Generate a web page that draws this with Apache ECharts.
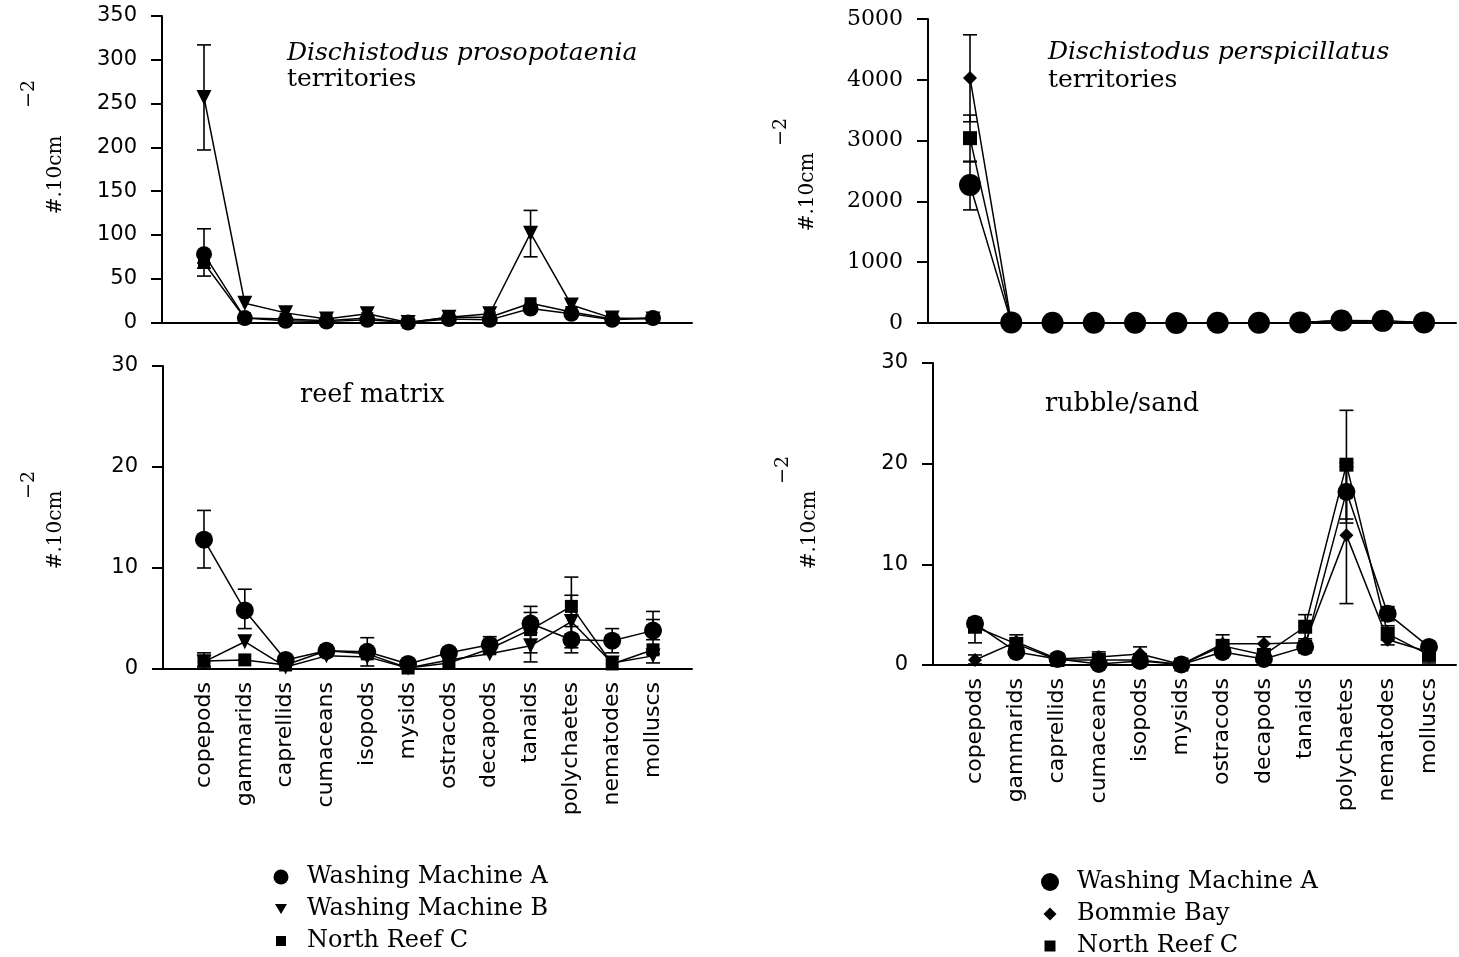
<!DOCTYPE html>
<html><head><meta charset="utf-8">
<script src="https://cdn.jsdelivr.net/npm/echarts@6/dist/echarts.min.js"></script>
<style>html,body{margin:0;padding:0;background:#fff}#c{width:1459px;height:957px}</style>
</head><body><div id="c"></div>
<script>
// ---------- DATA ----------
const categories = ['copepods','gammarids','caprellids','cumaceans','isopods','mysids','ostracods','decapods','tanaids','polychaetes','nematodes','molluscs'];
const leftSites = ['Washing Machine A','Washing Machine B','North Reef C'];
const rightSites = ['Washing Machine A','Bommie Bay','North Reef C'];

const tlYTicks = [0,50,100,150,200,250,300,350];
const blYTicks = [0,10,20,30];
const trYTicks = [0,1000,2000,3000,4000,5000];
const brYTicks = [0,10,20,30];

// Dischistodus prosopotaenia territories
const tlWMA = [78, 5, 2, 1, 3, 0, 4, 3, 16, 10, 3, 5];
const tlWMB = [257, 22, 11, 4, 10, 0, 6, 10, 102, 20, 5, 4];
const tlNRC = [68, 5, 4, 2, 5, 0, 6, 6, 22, 12, 4, 5];
const tlErrWMA = [[62,107],null,null,null,null,null,null,null,null,null,null,null];
const tlErrWMB = [[197,317],null,null,null,null,null,null,null,[75,128],null,null,null];
const tlErrNRC = [[53,68],null,null,null,null,null,null,null,null,null,null,null];

// reef matrix
const blWMA = [12.8, 5.8, 0.9, 1.8, 1.7, 0.5, 1.6, 2.4, 4.5, 2.9, 2.8, 3.8];
const blWMB = [0.7, 2.7, 0.2, 1.3, 1.2, 0.1, 0.9, 1.5, 2.3, 4.7, 0.6, 1.3];
const blNRC = [0.8, 0.9, 0.4, 1.8, 1.5, 0.1, 0.6, 2.0, 3.9, 6.2, 0.5, 1.9];
const blErrWMA = [[10.0,15.7],[4.0,7.9],null,null,[0.3,3.1],null,null,[1.6,3.2],[3.6,5.6],[1.6,4.2],[1.6,4.0],[2.9,5.7]];
const blErrWMB = [[0.2,1.6],null,null,null,null,null,null,null,[0.7,3.9],[2.1,7.3],null,[0.6,1.9]];
const blErrNRC = [null,null,null,null,null,null,null,null,[1.6,6.2],[3.3,9.1],null,[1.5,4.9]];

// Dischistodus perspicillatus territories
const trWMA = [2270, 10, 5, 5, 5, 0, 5, 5, 10, 40, 35, 10];
const trBB = [4030, 10, 5, 5, 5, 0, 5, 5, 10, 35, 30, 10];
const trNRC = [3040, 10, 5, 5, 5, 0, 5, 5, 10, 35, 30, 10];
const trErrWMA = [[1860,2660],null,null,null,null,null,null,null,null,null,null,null];
const trErrBB = [[3310,4740],null,null,null,null,null,null,null,null,null,null,null];
const trErrNRC = [[2650,3420],null,null,null,null,null,null,null,null,null,null,null];

// rubble/sand
const brWMA = [4.1, 1.3, 0.6, 0.1, 0.4, 0.05, 1.3, 0.6, 1.8, 17.2, 5.1, 1.8];
const brBB = [0.5, 2.3, 0.6, 0.8, 1.1, 0.05, 2.1, 2.1, 2.2, 12.9, 2.5, 1.3];
const brNRC = [3.8, 2.1, 0.5, 0.5, 0.5, 0.05, 1.9, 1.0, 3.8, 19.9, 3.1, 1.0];
const brErrWMA = [[3.5,4.7],null,null,null,null,null,null,null,[1.2,2.4],[14.1,20.1],[4.4,5.8],null];
const brErrBB = [[0.1,1.0],[1.6,3.0],null,[0.3,1.3],[0.4,1.8],null,[1.2,3.0],[1.4,2.8],null,[6.1,19.7],null,[0.2,2.0]];
const brErrNRC = [[2.2,4.2],null,null,null,null,null,null,null,[2.6,5.0],[14.5,25.3],[2.0,3.9],null];

// ---------- LAYOUT ----------
const panels = [
  {grid:{left:162, top:16, width:530, height:306.5}, xmin:-1.029, xmax:11.955, yTicks:tlYTicks, labels:false, yFont:'DejaVu Sans', yFontSize:21,
   series:[
     {name:leftSites[2], vals:tlNRC, errs:tlErrNRC, symbol:'rect', size:12},
     {name:leftSites[1], vals:tlWMB, errs:tlErrWMB, symbol:'triangle', rot:180, size:15},
     {name:leftSites[0], vals:tlWMA, errs:tlErrWMA, symbol:'circle', size:16}]},
  {grid:{left:163, top:366, width:529, height:303}, xmin:-1.004, xmax:11.955, yTicks:blYTicks, labels:true, yFont:'DejaVu Sans', yFontSize:21,
   series:[
     {name:leftSites[2], vals:blNRC, errs:blErrNRC, symbol:'rect', size:13},
     {name:leftSites[1], vals:blWMB, errs:blErrWMB, symbol:'triangle', rot:180, size:15},
     {name:leftSites[0], vals:blWMA, errs:blErrWMA, symbol:'circle', size:18}]},
  {grid:{left:928, top:19, width:528, height:304}, xmin:-1.018, xmax:11.776, yTicks:trYTicks, labels:false, yFont:'DejaVu Serif', yFontSize:22,
   series:[
     {name:rightSites[2], vals:trNRC, errs:trErrNRC, symbol:'rect', size:14},
     {name:rightSites[1], vals:trBB, errs:trErrBB, symbol:'diamond', size:14},
     {name:rightSites[0], vals:trWMA, errs:trErrWMA, symbol:'circle', size:22}]},
  {grid:{left:933, top:363, width:523, height:302}, xmin:-1.018, xmax:11.655, yTicks:brYTicks, labels:true, yFont:'DejaVu Sans', yFontSize:21,
   series:[
     {name:rightSites[2], vals:brNRC, errs:brErrNRC, symbol:'rect', size:14},
     {name:rightSites[1], vals:brBB, errs:brErrBB, symbol:'diamond', size:14},
     {name:rightSites[0], vals:brWMA, errs:brErrWMA, symbol:'circle', size:18}]}
];

const grids = [], xAxes = [], yAxes = [], series = [];
panels.forEach((p, g) => {
  grids.push(Object.assign({containLabel:false}, p.grid));
  xAxes.push({
    type:'value', gridIndex:g, min:p.xmin, max:p.xmax,
    axisLine:{show:true, onZero:false, lineStyle:{color:'#000', width:2}},
    axisTick:{show:false}, splitLine:{show:false},
    axisLabel: p.labels ? {
      show:true, customValues:categories.map((c,i)=>i),
      formatter:(v)=>categories[Math.round(v)] || '',
      rotate:90, fontSize:22, fontFamily:'DejaVu Sans', color:'#000', margin:13
    } : {show:false}
  });
  const yt = p.yTicks;
  yAxes.push({
    type:'value', gridIndex:g, min:yt[0], max:yt[yt.length-1], interval:yt[1]-yt[0],
    axisLine:{show:true, onZero:false, lineStyle:{color:'#000', width:2}},
    axisTick:{show:true, length:11, lineStyle:{color:'#000', width:2}},
    splitLine:{show:false},
    axisLabel:{fontSize:p.yFontSize, fontFamily:p.yFont, color:'#000', margin:25, formatter:(v)=>String(v)}
  });
  p.series.forEach(s => {
    const ed = [];
    s.errs.forEach((e,i)=>{ if (e) ed.push([i, e[0], e[1]]); });
    series.push({
      type:'custom', xAxisIndex:g, yAxisIndex:g, data:ed, z:1, silent:true,
      encode:{x:0, y:[1,2]},
      renderItem:(params, api) => {
        const x = api.value(0);
        const lo = api.coord([x, api.value(1)]);
        const hi = api.coord([x, api.value(2)]);
        const c = 7, st = {stroke:'#000', lineWidth:1.6};
        return {type:'group', children:[
          {type:'line', shape:{x1:lo[0], y1:lo[1], x2:hi[0], y2:hi[1]}, style:st},
          {type:'line', shape:{x1:lo[0]-c, y1:lo[1], x2:lo[0]+c, y2:lo[1]}, style:st},
          {type:'line', shape:{x1:hi[0]-c, y1:hi[1], x2:hi[0]+c, y2:hi[1]}, style:st}
        ]};
      }
    });
    series.push({
      type:'line', name:s.name, xAxisIndex:g, yAxisIndex:g,
      data:s.vals.map((v,i)=>[i,v]),
      symbol:s.symbol, symbolSize:s.size, symbolRotate:s.rot || 0,
      showAllSymbol:true, itemStyle:{color:'#000'},
      lineStyle:{color:'#000', width:1.5}, z:3
    });
  });
});

// legends (one row each): marker centre cx, row centre cy, text start tx
const legendRows = [
  {name:leftSites[0], icon:'circle', size:15, cx:281, cy:877, tx:307},
  {name:leftSites[1], icon:'path://M0,0L12,0L6,10Z', size:12, cx:281, cy:909, tx:307},
  {name:leftSites[2], icon:'rect', size:10, cx:281, cy:941, tx:307},
  {name:rightSites[0], icon:'circle', size:18, cx:1050, cy:882, tx:1077},
  {name:rightSites[1], icon:'path://M5,0L10,5L5,10L0,5Z', size:13, cx:1050, cy:914, tx:1077},
  {name:rightSites[2], icon:'rect', size:11, cx:1050, cy:946, tx:1077}
];
const legends = legendRows.map(r => {
  const pad = r.tx - (r.cx + r.size/2 + 5);
  return {
    data:[{name:r.name, icon:r.icon}], left:r.cx - r.size/2, top:r.cy - 13,
    itemWidth:r.size, itemHeight:r.size,
    padding:0, selectedMode:false, symbolKeepAspect:true,
    textStyle:{fontFamily:'DejaVu Serif', fontSize:24, color:'#000', lineHeight:26, padding:[0,0,0,pad]}
  };
});

const serif = '"DejaVu Serif"';
function txt(t, x, y, font) {
  return {type:'text', x:x, y:y, silent:true,
    style:{text:t, fill:'#000', font:font, align:'left', verticalAlign:'middle'}};
}
function ytitle(x, y, sx, sy) {
  return [
    {type:'text', x:x, y:y, rotation:Math.PI/2, silent:true,
     style:{text:'#.10cm', fill:'#000', font:'20px ' + serif, align:'center', verticalAlign:'middle'}},
    {type:'text', x:sx, y:sy, rotation:Math.PI/2, silent:true,
     style:{text:'\u22122', fill:'#000', font:'19px ' + serif, align:'center', verticalAlign:'middle'}}
  ];
}
const graphics = [
  txt('Dischistodus prosopotaenia', 287, 53, 'italic 25px ' + serif),
  txt('territories', 287, 79, '25px ' + serif),
  txt('reef matrix', 300, 395, '25.5px ' + serif),
  txt('Dischistodus perspicillatus', 1048, 52, 'italic 25px ' + serif),
  txt('territories', 1048, 80, '25px ' + serif),
  txt('rubble/sand', 1045, 404, '25.5px ' + serif)
].concat(ytitle(56, 175, 29, 94), ytitle(56, 530, 29, 485), ytitle(808, 192, 781, 132), ytitle(810, 530, 783, 470));

const chart = echarts.init(document.getElementById('c'), null, {renderer:'canvas'});
chart.setOption({
  animation:false, backgroundColor:'#fff',
  grid:grids, xAxis:xAxes, yAxis:yAxes, series:series, legend:legends,
  graphic:{elements:graphics}
});
</script></body></html>
